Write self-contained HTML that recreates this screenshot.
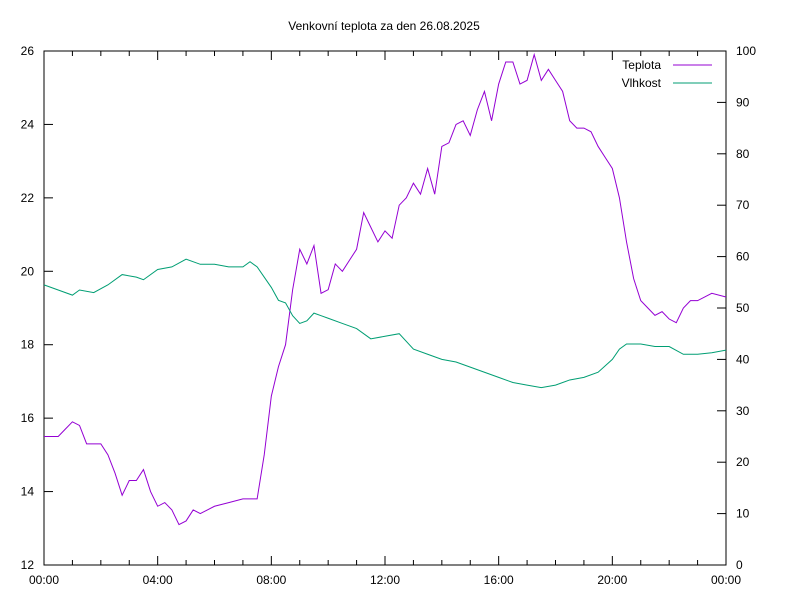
<!DOCTYPE html>
<html><head><meta charset="utf-8"><style>
body{margin:0;background:#fff}
svg text{font-family:"Liberation Sans",sans-serif;font-size:12px;fill:#000}
</style></head><body>
<svg id="c" width="800" height="600" viewBox="0 0 800 600"></svg>
<script>
const hours=[0,0.5,0.75,1,1.25,1.5,2,2.25,2.5,2.75,3,3.25,3.5,3.75,4,4.25,4.5,4.75,5,5.25,5.5,5.75,6,6.5,7,7.5,7.75,8,8.25,8.5,8.75,9,9.25,9.5,9.75,10,10.25,10.5,10.75,11,11.25,11.5,11.75,12,12.25,12.5,12.75,13,13.25,13.5,13.75,14,14.25,14.5,14.75,15,15.25,15.5,15.75,16,16.25,16.5,16.75,17,17.25,17.5,17.75,18,18.25,18.5,18.75,19,19.25,19.5,19.75,20,20.25,20.5,20.75,21,21.25,21.5,21.75,22,22.25,22.5,22.75,23,23.5,24];
const teplota=[15.5,15.5,15.7,15.9,15.8,15.3,15.3,15.0,14.5,13.9,14.3,14.3,14.6,14.0,13.6,13.7,13.5,13.1,13.2,13.5,13.4,13.5,13.6,13.7,13.8,13.8,15.0,16.6,17.4,18.0,19.5,20.6,20.2,20.7,19.4,19.5,20.2,20.0,20.3,20.6,21.6,21.2,20.8,21.1,20.9,21.8,22.0,22.4,22.1,22.8,22.1,23.4,23.5,24.0,24.1,23.7,24.4,24.9,24.1,25.1,25.7,25.7,25.1,25.2,25.9,25.2,25.5,25.2,24.9,24.1,23.9,23.9,23.8,23.4,23.1,22.8,22.0,20.8,19.8,19.2,19.0,18.8,18.9,18.7,18.6,19.0,19.2,19.2,19.4,19.3];
const humHours=[0,0.5,1,1.25,1.75,2.25,2.75,3.25,3.5,4,4.5,5,5.5,6,6.5,7,7.25,7.5,8,8.25,8.5,8.75,9,9.25,9.5,9.75,10,10.5,11,11.5,12,12.5,13,13.5,14,14.5,15,15.5,16,16.5,17,17.5,18,18.5,19,19.5,20,20.25,20.5,21,21.5,22,22.5,23,23.5,24];
const vlhkost=[54.5,53.5,52.5,53.5,53,54.5,56.5,56,55.5,57.5,58,59.5,58.5,58.5,58,58,59,58,54,51.5,51,48.5,47,47.5,49,48.5,48,47,46,44,44.5,45,42,41,40,39.5,38.5,37.5,36.5,35.5,35,34.5,35,36,36.5,37.5,40,42,43,43,42.5,42.5,41,41,41.3,41.8];
const leftTicks=[12,14,16,18,20,22,24,26];
const rightTicks=[0,10,20,30,40,50,60,70,80,90,100];
const xTicks=[0,4,8,12,16,20,24];
const xLabels=["00:00","04:00","08:00","12:00","16:00","20:00","00:00"];
const L=44,R=726,T=51,B=565;
const X=h=>L+(R-L)*h/24, YL=v=>B-(B-T)*(v-12)/14, YR=v=>B-(B-T)*v/100;
const svg=document.getElementById('c'),NS='http://www.w3.org/2000/svg';
function mk(t,a,p,txt){const e=document.createElementNS(NS,t);for(const k in a)e.setAttribute(k,a[k]);if(txt!=null)e.textContent=txt;(p||svg).appendChild(e);return e;}
const title=mk('text',{x:384,y:30,'text-anchor':'middle'},null,'Venkovní teplota za den 26.08.2025');


const frame=mk('rect',{x:L,y:T,width:R-L,height:B-T,fill:'none',stroke:'#000','stroke-width':1});


leftTicks.forEach(v=>{const y=YL(v);mk('line',{x1:L,x2:L+9,y1:y,y2:y,stroke:'#000'});
 const t=mk('text',{x:L-10,y:y+4,'text-anchor':'end'},null,v);
 
 });
rightTicks.forEach(v=>{const y=YR(v);mk('line',{x1:R-9,x2:R,y1:y,y2:y,stroke:'#000'});
 const t=mk('text',{x:R+10,y:y+4,'text-anchor':'start'},null,v);
 
 });
for(let h=0;h<=24;h++){const x=X(h),len=h%4==0?9:5;mk('line',{x1:x,x2:x,y1:B,y2:B-len,stroke:'#000'});mk('line',{x1:x,x2:x,y1:T,y2:T+len,stroke:'#000'});}
xTicks.forEach((h,i)=>{const t=mk('text',{x:X(h),y:B+19,'text-anchor':'middle'},null,xLabels[i]);
 
 });
const p1=mk('polyline',{points:hours.map((h,i)=>X(h)+','+YL(teplota[i])).join(' '),fill:'none',stroke:'#9400d3','stroke-width':1});


const p2=mk('polyline',{points:humHours.map((h,i)=>X(h)+','+YR(vlhkost[i])).join(' '),fill:'none',stroke:'#009e73','stroke-width':1});


[['Teplota','#9400d3',65],['Vlhkost','#009e73',83]].forEach(([n,c,y])=>{
 const g=mk('g',{});
 
 
 mk('text',{x:661,y:y+4,'text-anchor':'end'},g,n);
 mk('line',{x1:673,x2:712,y1:y,y2:y,stroke:c},g);});
</script>
</body></html>
